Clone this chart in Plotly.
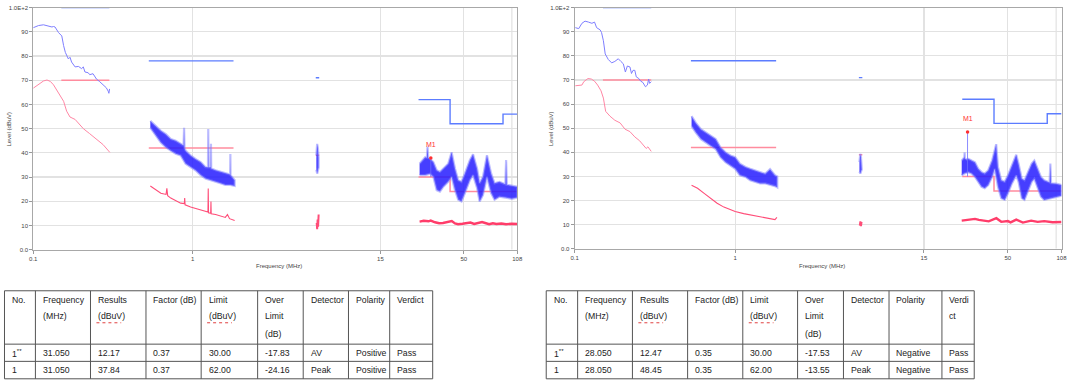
import math
import plotly.graph_objects as go

W, H = 1080, 388

# ---------------- limits (MHz / dBuV) ----------------
PK_LIM_START = [0.15, 0.53, 5.9, 26, 41, 88]
PK_LIM_STOP = [0.30, 1.8, 6.2, 41, 88, 108]
PK_LIM_LEVEL = [100, 78, 71, 62, 52, 56]
AV_LIM_START = [0.15, 0.53, 5.9, 26, 41]
AV_LIM_STOP = [0.30, 1.8, 6.2, 41, 108]
AV_LIM_LEVEL = [70, 42, 39, 30, 24]

# ---------------- LEFT chart data ----------------
L_LW_PK_F = [0.1, 0.108, 0.116, 0.125, 0.131, 0.134, 0.137, 0.144, 0.151, 0.155, 0.159, 0.166, 0.170, 0.174,
             0.183, 0.192, 0.201, 0.206, 0.211, 0.221, 0.226, 0.237, 0.249, 0.261, 0.274, 0.287, 0.295, 0.298, 0.301]
L_LW_PK = [91.7, 92.6, 92.9, 92.4, 92.0, 92.2, 92.0, 89.7, 88.3, 84.3, 81.5, 78.8, 79.5, 77.5,
           75.5, 75.7, 74.8, 75.5, 73.4, 73.1, 72.3, 72.7, 70.5, 69.4, 68.0, 66.9, 65.5, 64.6, 66.4]
L_LW_AV_F = [0.1, 0.108, 0.116, 0.122, 0.128, 0.134, 0.140, 0.148, 0.155, 0.162, 0.170, 0.183, 0.196, 0.206,
             0.225, 0.249, 0.274, 0.302]
L_LW_AV = [66.7, 68.4, 69.7, 70.1, 69.5, 68.1, 66.1, 64.0, 61.3, 57.2, 54.8, 53.8, 51.8, 50.0,
           48.0, 45.7, 43.4, 40.2]

L_MW_UP_F = [0.542, 0.587, 0.631, 0.678, 0.728, 0.782, 0.840, 0.876, 0.882, 0.888, 0.902, 0.969, 1.04, 1.12,
             1.20, 1.245, 1.25, 1.255, 1.295, 1.30, 1.305, 1.39, 1.49, 1.60, 1.715, 1.72, 1.725, 1.83]
L_MW_UP = [53.2, 51.1, 49.1, 47.7, 45.7, 45.0, 43.7, 43.0, 50.4, 42.0, 40.9, 38.9, 37.5, 36.2,
           34.1, 34.0, 49.8, 34.0, 34.0, 43.7, 33.5, 32.8, 32.1, 31.4, 31.0, 39.5, 30.8, 28.7]
L_MW_LO_F = [0.542, 0.587, 0.631, 0.678, 0.728, 0.782, 0.840, 0.902, 0.969, 1.04, 1.12, 1.20, 1.29, 1.39,
             1.49, 1.60, 1.72, 1.83]
L_MW_LO = [50.4, 47.0, 44.3, 42.3, 40.9, 39.6, 38.9, 35.5, 34.1, 32.8, 30.8, 29.4, 28.7, 28.0,
           27.4, 26.7, 26.7, 26.3]
L_MW_AV_F = [0.542, 0.587, 0.631, 0.680, 0.688, 0.696, 0.728, 0.840, 0.885, 0.890, 0.895, 0.969, 1.12, 1.20,
             1.245, 1.25, 1.255, 1.295, 1.30, 1.305, 1.39, 1.49, 1.60, 1.65, 1.70, 1.83]
L_MW_AV = [26.3, 24.6, 23.3, 22.8, 25.3, 22.3, 21.3, 19.2, 19.0, 21.3, 18.5, 17.6, 16.5, 15.8,
           15.5, 25.3, 15.2, 15.0, 19.9, 14.8, 14.5, 13.8, 13.3, 14.5, 12.8, 12.0]

L_SW_UP_F = [5.95, 6.02, 6.08, 6.15]
L_SW_UP = [39.0, 43.7, 42.0, 38.0]
L_SW_LO_F = [5.95, 6.02, 6.08, 6.15]
L_SW_LO = [33.0, 31.4, 32.0, 34.0]
L_SW_AV_F = [5.98, 6.02, 6.06, 6.10, 6.15]
L_SW_AV = [11.0, 8.4, 12.4, 9.5, 14.5]

L_VHF_UP_F = [26.4, 27.3, 28.6, 29.3, 29.6, 29.9, 30.7, 32.2, 33.8, 35.4, 37.2, 39.9, 41.9, 44.0, 46.1, 48.3,
              50.7, 54.5, 57.1, 60.5, 62.8, 65.9, 69.8, 74.2, 77.9, 83.6, 91.0, 92.0, 93.0, 100, 108]
L_VHF_UP = [35.5, 36.5, 38.2, 38.0, 42.6, 38.0, 37.5, 36.2, 32.8, 32.1, 33.5, 35.5, 40.2, 33.5, 28.7, 28.0,
            31.4, 36.9, 39.4, 33.5, 27.4, 30.1, 39.0, 31.4, 27.4, 28.0, 27.0, 37.0, 26.8, 26.5, 26.0]
L_VHF_LO_F = [26.4, 28.6, 30.7, 32.2, 33.8, 35.4, 37.2, 39.9, 41.9, 44.0, 46.1, 48.3, 50.7, 54.5, 57.1,
              60.5, 62.8, 65.9, 69.8, 74.2, 77.9, 83.6, 91.0, 100, 108]
L_VHF_LO = [30.8, 30.8, 31.4, 30.1, 24.6, 24.0, 26.0, 28.0, 30.1, 24.6, 20.6, 19.9, 23.3, 28.7, 30.8,
            25.5, 19.9, 22.6, 30.1, 23.3, 20.6, 21.9, 21.5, 21.0, 21.5]
L_VHF_AV_F = [26.4, 28, 30, 31, 33, 35, 37, 40, 42, 44, 46, 49, 52, 55, 58, 62, 65, 68, 72, 76, 80, 86, 92, 100, 108]
L_VHF_AV = [11.6, 11.9, 11.7, 12.0, 11.3, 10.9, 11.0, 11.4, 11.8, 10.8, 10.5, 10.7, 10.9, 11.2, 10.6, 10.9,
            11.4, 11.0, 10.5, 10.9, 10.6, 10.8, 10.5, 10.7, 10.6]

# ---------------- RIGHT chart data ----------------
R_LW_PK_F = [0.101, 0.106, 0.111, 0.116, 0.122, 0.128, 0.133, 0.137, 0.144, 0.147, 0.151, 0.155, 0.162, 0.170,
             0.178, 0.187, 0.194, 0.201, 0.207, 0.213, 0.221, 0.226, 0.231, 0.237, 0.242, 0.251, 0.258, 0.266,
             0.276, 0.284, 0.289, 0.293, 0.300]
R_LW_PK = [91.7, 91.3, 93.5, 94.4, 94.0, 93.5, 94.0, 91.7, 90.8, 89.7, 86.3, 80.8, 78.5, 77.1,
           77.7, 78.8, 77.7, 76.7, 73.3, 75.8, 75.4, 72.7, 74.0, 74.0, 71.3, 70.6, 69.5, 69.0,
           67.2, 67.9, 70.4, 68.6, 69.3]
R_LW_AV_F = [0.101, 0.111, 0.114, 0.121, 0.127, 0.133, 0.139, 0.146, 0.151, 0.156, 0.166, 0.178, 0.192, 0.206,
             0.221, 0.237, 0.254, 0.266, 0.279, 0.286, 0.300]
R_LW_AV = [67.6, 67.9, 69.3, 70.6, 70.4, 69.5, 67.9, 65.5, 62.5, 57.0, 55.0, 53.3, 52.2, 49.6,
           48.6, 46.4, 44.8, 43.4, 41.6, 42.3, 40.4]

R_MW_UP_F = [0.535, 0.569, 0.612, 0.656, 0.704, 0.756, 0.811, 0.871, 0.935, 1.00, 1.07, 1.16, 1.24, 1.33,
             1.43, 1.54, 1.65, 1.77, 1.83]
R_MW_UP = [55.0, 52.2, 49.6, 48.2, 46.8, 45.5, 42.0, 40.0, 38.7, 38.0, 35.3, 33.9, 33.2, 32.5,
           31.8, 31.1, 33.0, 30.5, 30.0]
R_MW_LO_F = R_MW_UP_F
R_MW_LO = [50.9, 48.2, 45.5, 44.1, 42.7, 41.4, 38.0, 35.9, 34.6, 33.2, 30.5, 29.8, 28.4, 27.8,
           27.1, 27.1, 26.4, 26.0, 25.5]
R_MW_AV_F = [0.535, 0.583, 0.641, 0.704, 0.772, 0.851, 0.935, 1.00, 1.13, 1.30, 1.50, 1.65, 1.77, 1.82]
R_MW_AV = [26.4, 25.1, 23.0, 21.0, 18.9, 17.3, 16.2, 15.5, 14.6, 13.8, 13.2, 12.4, 12.1, 13.0]

R_SW_UP_F = [5.95, 6.02, 6.08, 6.15]
R_SW_UP = [36.0, 39.4, 38.0, 35.0]
R_SW_LO_F = [5.95, 6.02, 6.08, 6.15]
R_SW_LO = [32.0, 31.2, 32.0, 33.0]
R_SW_AV_F = [5.98, 6.03, 6.08, 6.13]
R_SW_AV = [9.6, 11.4, 9.4, 11.2]

R_VHF_UP_F = [25.8, 26.8, 26.9, 27.0, 27.7, 28.4, 29.7, 31.2, 32.7, 34.3, 35.9, 37.7, 39.9, 41.4, 42.3, 43.4,
              45.5, 47.8, 50.1, 53.0, 56.4, 58.3, 61.1, 63.5, 66.5, 70.4, 73.1, 76.7, 80.4, 84.3, 91.0, 92.0,
              93.0, 100, 108]
R_VHF_UP = [36.6, 38.0, 40.0, 37.5, 37.0, 37.3, 36.6, 35.9, 33.2, 31.8, 31.2, 32.5, 36.6, 40.7, 43.4, 33.9,
            28.4, 27.8, 30.5, 34.6, 39.0, 35.3, 29.1, 28.4, 31.2, 35.3, 36.6, 33.2, 29.8, 28.4, 27.5, 35.4,
            27.2, 27.0, 26.5]
R_VHF_LO_F = [25.8, 26.8, 28.4, 29.7, 31.2, 32.7, 34.3, 35.9, 37.7, 39.9, 41.4, 43.4, 45.5, 47.8, 50.1, 53.0,
              56.4, 58.3, 61.1, 63.5, 66.5, 70.4, 73.1, 76.7, 80.4, 84.3, 91.0, 100, 108]
R_VHF_LO = [30.5, 31.2, 31.8, 31.2, 29.8, 27.8, 25.7, 25.1, 26.4, 29.8, 33.2, 25.7, 21.0, 20.3, 23.0, 27.1,
            30.5, 27.8, 21.0, 20.3, 23.7, 27.8, 29.1, 25.7, 21.6, 20.3, 21.0, 21.5, 22.0]
R_VHF_AV_F = [25.8, 28, 31.2, 33, 35.9, 38, 42.4, 45.5, 50, 52, 56.4, 62, 69.8, 76.7, 84.3, 95, 108]
R_VHF_AV = [11.7, 11.9, 12.4, 12.0, 11.6, 11.4, 12.7, 11.2, 11.5, 11.0, 12.1, 10.9, 11.7, 11.2, 11.5, 11.0, 11.1]

# ---------------- markers (from tables) ----------------
L_M1 = (31.05, 37.84)
R_M1 = (28.05, 48.45)

# ---------------- axis ticks ----------------
X_TICKVALS = [0.1, 1, 15, 50, 108]
X_TICKTEXT = ["0.1", "1", "15", "50", "108"]
X_EXTRA_GRID = [100]
Y_TICKVALS = [0, 10, 20, 30, 40, 50, 60, 70, 80, 90, 100]
Y_TICKTEXT = ["0.0", "10", "20", "30", "40", "50", "60", "70", "80", "90", "1.0E+2"]

# ---------------- tables ----------------
HEADERS_L = [["No."], ["Frequency", "(MHz)"], ["Results", "(dBuV)"], ["Factor (dB)"], ["Limit", "(dBuV)"],
             ["Over", "Limit", "(dB)"], ["Detector"], ["Polarity"], ["Verdict"]]
HEADERS_R = [["No."], ["Frequency", "(MHz)"], ["Results", "(dBuV)"], ["Factor (dB)"], ["Limit", "(dBuV)"],
             ["Over", "Limit", "(dB)"], ["Detector"], ["Polarity"], ["Verdi", "ct"]]
ROWS_L = [["1**", "31.050", "12.17", "0.37", "30.00", "-17.83", "AV", "Positive", "Pass"],
          ["1", "31.050", "37.84", "0.37", "62.00", "-24.16", "Peak", "Positive", "Pass"]]
ROWS_R = [["1**", "28.050", "12.47", "0.35", "30.00", "-17.53", "AV", "Negative", "Pass"],
          ["1", "28.050", "48.45", "0.35", "62.00", "-13.55", "Peak", "Negative", "Pass"]]

# ---------------- layout geometry (pixels) ----------------
CH_L = dict(x0=29.5, x1=518.0, y0=4.7, y1=250.5)
CH_R = dict(x0=576.0, x1=1067.4, y0=4.7, y1=249.7)
TB_L_COLS = [0.5, 31.7, 87.3, 143.3, 199.0, 256.0, 302.0, 347.7, 389.3, 432.7]
TB_R_COLS = [547.3, 579.0, 634.3, 690.0, 745.7, 801.0, 847.3, 893.3, 946.7, 979.3]
TB_ROWS = [292.3, 346.5, 364.0, 381.7]
HDR_LINES_Y = [301.7, 318.3, 335.7]
ROW_TEXT_Y = [355.0, 372.7]

PK_FILL = "rgba(38,28,255,0.85)"
PK_EDGE = "rgba(125,125,255,0.5)"
PK_THIN = "#7e7eff"
AV_THIN = "#ff86a4"
AV_NOISE = "#ff4d78"
AV_THICK = "#ff3d6a"
PK_LIMIT = "#5c7cff"
AV_LIMIT = "#ff8c9e"
GRID = "#e2e2e2"


def px2x(px):
    return px / W


def py2y(py):
    return 1 - py / H


def steps(starts, stops, levels):
    xs, ys = [], []
    for i, (a, b, l) in enumerate(zip(starts, stops, levels)):
        xs += [a, b]
        ys += [l, l]
        if i + 1 < len(starts) and starts[i + 1] != b:
            xs.append(None)
            ys.append(None)
    return xs, ys


def band(fu, u, fl, l):
    return list(fu) + list(fl)[::-1], list(u) + list(l)[::-1]


fig = go.Figure()


def add_chart(xa, ya, lw_pk, lw_av, mw, mw_av, sw, sw_av, vhf, vhf_av, m1):
    kw = dict(xaxis=xa, yaxis=ya, hoverinfo="skip", showlegend=False)
    # extra vertical grid line (100 MHz)
    for g in X_EXTRA_GRID:
        fig.add_trace(go.Scatter(x=[g, g], y=[0, 100], mode="lines", line=dict(color=GRID, width=1.2), **kw))
    # limits
    x, y = steps(PK_LIM_START, PK_LIM_STOP, PK_LIM_LEVEL)
    fig.add_trace(go.Scatter(x=x, y=y, mode="lines", line=dict(color=PK_LIMIT, width=1.4), **kw))
    x, y = steps(AV_LIM_START, AV_LIM_STOP, AV_LIM_LEVEL)
    fig.add_trace(go.Scatter(x=x, y=y, mode="lines", line=dict(color=AV_LIMIT, width=1.5), **kw))
    # LW
    fig.add_trace(go.Scatter(x=lw_pk[0], y=lw_pk[1], mode="lines", line=dict(color=PK_THIN, width=1), **kw))
    fig.add_trace(go.Scatter(x=lw_av[0], y=lw_av[1], mode="lines", line=dict(color=AV_THIN, width=1), **kw))
    # noisy peak bands
    for b in (mw, sw, vhf):
        x, y = band(*b)
        fig.add_trace(go.Scatter(x=x, y=y, mode="lines", fill="toself", fillcolor=PK_FILL,
                                 line=dict(color=PK_EDGE, width=2.2), **kw))
    fig.add_trace(go.Scatter(x=mw_av[0], y=mw_av[1], mode="lines", line=dict(color=AV_NOISE, width=1.1), **kw))
    fig.add_trace(go.Scatter(x=sw_av[0], y=sw_av[1], mode="lines", line=dict(color=AV_NOISE, width=2), **kw))
    fig.add_trace(go.Scatter(x=vhf_av[0], y=vhf_av[1], mode="lines", line=dict(color=AV_THICK, width=2.4), **kw))
    # marker
    fig.add_trace(go.Scatter(x=[m1[0], m1[0]], y=[30, m1[1]], mode="lines",
                             line=dict(color="rgba(110,110,255,0.8)", width=1), **kw))
    fig.add_trace(go.Scatter(x=[m1[0]], y=[m1[1]], mode="markers",
                             marker=dict(color="#ff3030", size=3.5), **kw))
    fig.add_annotation(x=math.log10(m1[0]), y=m1[1] + 3.2, xref=xa, yref=ya, text="M1", showarrow=False,
                       xanchor="center", yanchor="bottom",
                       font=dict(family="Liberation Sans, Arial", size=7, color="#ff3030"))


add_chart("x", "y", (L_LW_PK_F, L_LW_PK), (L_LW_AV_F, L_LW_AV),
          (L_MW_UP_F, L_MW_UP, L_MW_LO_F, L_MW_LO), (L_MW_AV_F, L_MW_AV),
          (L_SW_UP_F, L_SW_UP, L_SW_LO_F, L_SW_LO), (L_SW_AV_F, L_SW_AV),
          (L_VHF_UP_F, L_VHF_UP, L_VHF_LO_F, L_VHF_LO), (L_VHF_AV_F, L_VHF_AV), L_M1)
add_chart("x2", "y2", (R_LW_PK_F, R_LW_PK), (R_LW_AV_F, R_LW_AV),
          (R_MW_UP_F, R_MW_UP, R_MW_LO_F, R_MW_LO), (R_MW_AV_F, R_MW_AV),
          (R_SW_UP_F, R_SW_UP, R_SW_LO_F, R_SW_LO), (R_SW_AV_F, R_SW_AV),
          (R_VHF_UP_F, R_VHF_UP, R_VHF_LO_F, R_VHF_LO), (R_VHF_AV_F, R_VHF_AV), R_M1)

TICKFONT = dict(family="Liberation Sans, Arial", size=6, color="#444")


def xaxis_cfg(ch):
    return dict(type="log", range=[-1, math.log10(108)], domain=[px2x(ch["x0"]), px2x(ch["x1"])],
                tickvals=X_TICKVALS, ticktext=X_TICKTEXT, tickfont=TICKFONT, ticks="outside", ticklen=3,
                tickcolor="#999", showgrid=True, gridcolor=GRID, gridwidth=1.2, showline=True,
                linecolor="#a8a8a8", linewidth=1, mirror=True, zeroline=False, fixedrange=True)


def yaxis_cfg(ch, anchor):
    return dict(range=[0, 100], domain=[py2y(ch["y1"]), py2y(ch["y0"])], anchor=anchor,
                tickvals=Y_TICKVALS, ticktext=Y_TICKTEXT, tickfont=TICKFONT, ticks="outside", ticklen=3,
                tickcolor="#999", showgrid=True, gridcolor=GRID, gridwidth=1.2, showline=True,
                linecolor="#a8a8a8", linewidth=1, mirror=True, zeroline=False, fixedrange=True)


fig.update_layout(
    width=W, height=H, margin=dict(l=0, r=0, t=0, b=0), autosize=False,
    paper_bgcolor="white", plot_bgcolor="white", hovermode=False, showlegend=False,
    xaxis=dict(xaxis_cfg(CH_L), anchor="y"),
    yaxis=yaxis_cfg(CH_L, "x"),
    xaxis2=dict(xaxis_cfg(CH_R), anchor="y2"),
    yaxis2=yaxis_cfg(CH_R, "x2"),
)

TITLEFONT = dict(family="Liberation Sans, Arial", size=6, color="#444")
for ch, xt in ((CH_L, 5.0), (CH_R, 552.0)):
    fig.add_annotation(x=px2x(xt), y=py2y((ch["y0"] + ch["y1"]) / 2), xref="paper", yref="paper",
                       text="Level (dBuV)", textangle=-90, showarrow=False, font=TITLEFONT,
                       xanchor="center", yanchor="middle")
    fig.add_annotation(x=px2x((ch["x0"] + ch["x1"]) / 2 + 4), y=py2y(267), xref="paper", yref="paper",
                       text="Frequency (MHz)", showarrow=False, font=TITLEFONT,
                       xanchor="center", yanchor="middle")

# ---------------- tables ----------------
TFONT = dict(family="Liberation Sans, Arial", size=8.7, color="#222")
LINE = dict(color="#555", width=1)


def add_table(cols, headers, rows):
    for r in TB_ROWS:
        fig.add_shape(type="line", xref="paper", yref="paper", x0=px2x(cols[0]), x1=px2x(cols[-1]),
                      y0=py2y(r), y1=py2y(r), line=LINE)
    for c in cols:
        fig.add_shape(type="line", xref="paper", yref="paper", x0=px2x(c), x1=px2x(c),
                      y0=py2y(TB_ROWS[0]), y1=py2y(TB_ROWS[-1]), line=LINE)
    for j, hdr in enumerate(headers):
        for k, line_text in enumerate(hdr):
            fig.add_annotation(x=px2x(cols[j] + 5.5), y=py2y(HDR_LINES_Y[k]), xref="paper", yref="paper",
                               text=line_text, showarrow=False, xanchor="left", yanchor="middle", font=TFONT)
            if line_text == "(dBuV)":
                fig.add_shape(type="line", xref="paper", yref="paper", x0=px2x(cols[j] + 6),
                              x1=px2x(cols[j] + 31), y0=py2y(HDR_LINES_Y[k] + 6.5), y1=py2y(HDR_LINES_Y[k] + 6.5),
                              line=dict(color="#e04040", width=1, dash="dot"))
    for i, row in enumerate(rows):
        for j, val in enumerate(row):
            txt = val
            if val.endswith("**"):
                txt = val[:-2] + "<sup>**</sup>"
            fig.add_annotation(x=px2x(cols[j] + 5.5), y=py2y(ROW_TEXT_Y[i]), xref="paper", yref="paper",
                               text=txt, showarrow=False, xanchor="left", yanchor="middle", font=TFONT)


add_table(TB_L_COLS, HEADERS_L, ROWS_L)
add_table(TB_R_COLS, HEADERS_R, ROWS_R)

fig.write_html("out.html", config={"displayModeBar": False, "staticPlot": True},
               post_script="document.body.style.margin='0';document.body.style.overflow='hidden';")
